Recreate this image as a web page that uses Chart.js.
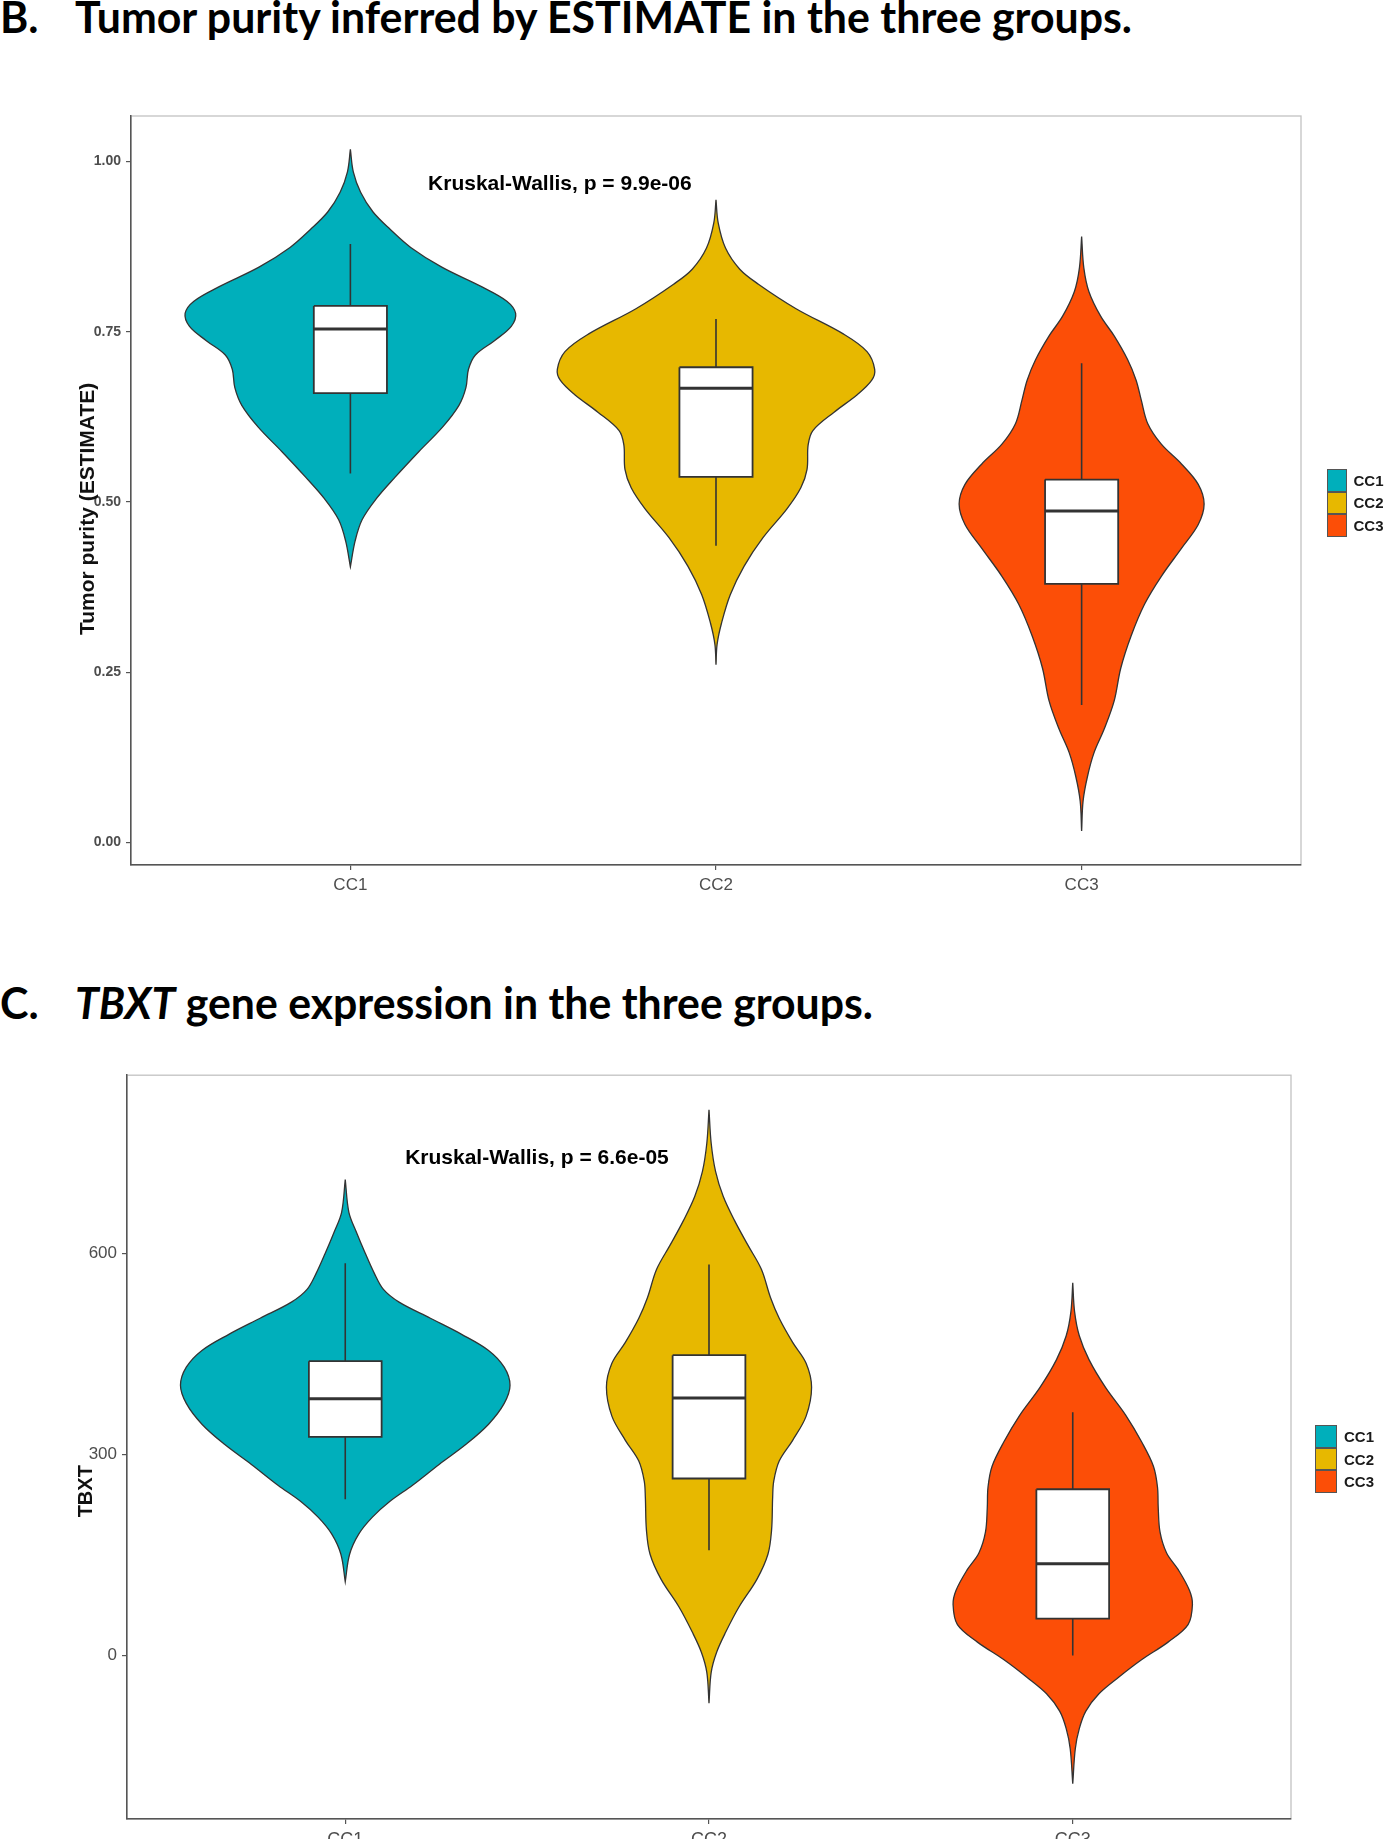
<!DOCTYPE html>
<html>
<head>
<meta charset="utf-8">
<title>Tumor purity and TBXT expression</title>
<script src="https://cdn.jsdelivr.net/npm/chart.js@4.4.1/dist/chart.umd.min.js"></script>
<style>
  html, body { margin: 0; padding: 0; background: #fff; }
  body { position: relative; width: 1388px; height: 1839px; overflow: hidden; }
  .head { position: absolute; left: 0; font-family: Lato, "Open Sans", sans-serif; font-weight: 700;
          font-size: 43px; line-height: 1; color: #000; white-space: nowrap; }
  .head .txt { position: absolute; left: 75px; top: 0; transform-origin: 0 0; }
  canvas { position: absolute; left: 0; }
  .legend { position: absolute; font: bold 15px "Liberation Sans", Arial, sans-serif; color: #1a1a1a; }
  .legend .item { display: flex; align-items: center; }
  .legend .sw { box-sizing: border-box; border: 1.5px solid #555; margin-right: 7px; }
</style>
</head>
<body>

<div class="head" style="top:-5px"><span>B.</span><span class="txt" data-w="1057">Tumor purity inferred by ESTIMATE in the three groups.</span></div>
<div class="head" style="top:981px"><span>C.</span><span class="txt" data-w="798"><i>TBXT</i> gene expression in the three groups.</span></div>

<canvas id="purityChart" width="1388" height="810" style="top:100px"></canvas>
<canvas id="tbxtChart" width="1388" height="779" style="top:1060px"></canvas>

<div class="legend" id="purityLegend" style="left:1327px; top:469px"></div>
<div class="legend" id="tbxtLegend" style="left:1315px; top:1425px"></div>

<script>
const categories = ['CC1', 'CC2', 'CC3'];
const groupColors = ['#00AFBB', '#E7B800', '#FC4E07'];

// B. tumor purity: violin outlines, [value, half width] from top tip to bottom tip
const purityViolinCC1 = [[1.018, 0], [0.985, 0.008], [0.955, 0.028], [0.926, 0.062], [0.900, 0.110], [0.874, 0.165],
  [0.845, 0.250], [0.816, 0.360], [0.795, 0.428], [0.777, 0.452], [0.758, 0.440], [0.737, 0.394], [0.716, 0.342],
  [0.695, 0.323], [0.668, 0.316], [0.642, 0.297], [0.610, 0.252], [0.574, 0.187], [0.537, 0.123], [0.505, 0.071],
  [0.474, 0.032], [0.443, 0.013], [0.405, 0]];
const purityViolinCC2 = [[0.944, 0], [0.910, 0.006], [0.873, 0.026], [0.842, 0.065], [0.820, 0.116], [0.784, 0.219],
  [0.747, 0.348], [0.721, 0.413], [0.695, 0.434], [0.679, 0.426], [0.658, 0.387], [0.632, 0.323], [0.605, 0.265],
  [0.584, 0.252], [0.548, 0.249], [0.521, 0.232], [0.490, 0.194], [0.448, 0.129], [0.406, 0.077], [0.364, 0.039],
  [0.322, 0.015], [0.291, 0.003], [0.261, 0]];
const purityViolinCC3 = [[0.890, 0], [0.844, 0.006], [0.809, 0.020], [0.773, 0.052], [0.744, 0.089], [0.709, 0.126],
  [0.679, 0.149], [0.650, 0.163], [0.615, 0.181], [0.585, 0.218], [0.556, 0.273], [0.526, 0.319], [0.497, 0.335],
  [0.467, 0.319], [0.432, 0.273], [0.391, 0.218], [0.350, 0.172], [0.303, 0.135], [0.256, 0.107], [0.208, 0.089],
  [0.167, 0.062], [0.132, 0.034], [0.097, 0.016], [0.061, 0.004], [0.017, 0]];
const purityWhiskerLow = [0.542, 0.436, 0.202];
const purityQ1 = [0.660, 0.537, 0.380];
const purityMedian = [0.754, 0.667, 0.487];
const purityQ3 = [0.788, 0.698, 0.533];
const purityWhiskerHigh = [0.879, 0.769, 0.704];
const purityTicks = [0, 0.25, 0.5, 0.75, 1.0];
const purityTest = 'Kruskal-Wallis, p = 9.9e-06';

// C. TBXT expression
const tbxtViolinCC1 = [[710, 0], [661, 0.010], [631, 0.031], [600, 0.055], [570, 0.080], [546, 0.105], [527, 0.148],
  [503, 0.234], [479, 0.320], [455, 0.394], [430, 0.437], [403, 0.453], [376, 0.437], [345, 0.394], [315, 0.332],
  [285, 0.258], [254, 0.185], [230, 0.123], [206, 0.074], [181, 0.037], [151, 0.012], [110, 0]];
const tbxtViolinCC2 = [[814, 0], [764, 0.006], [722, 0.018], [685, 0.039], [649, 0.070], [612, 0.107], [576, 0.144],
  [534, 0.169], [503, 0.193], [467, 0.230], [436, 0.267], [400, 0.282], [357, 0.267], [321, 0.230], [290, 0.193],
  [260, 0.178], [236, 0.175], [187, 0.172], [151, 0.162], [114, 0.132], [72, 0.082], [35, 0.046], [5, 0.021],
  [-25, 0.006], [-71, 0]];
const tbxtViolinCC3 = [[556, 0], [513, 0.005], [477, 0.018], [441, 0.045], [400, 0.090], [359, 0.145], [318, 0.190],
  [282, 0.222], [251, 0.233], [220, 0.235], [184, 0.240], [153, 0.258], [128, 0.290], [97, 0.321], [76, 0.329],
  [46, 0.317], [20, 0.262], [-6, 0.190], [-32, 0.127], [-57, 0.072], [-83, 0.036], [-109, 0.018], [-139, 0.007],
  [-191, 0]];
const tbxtWhiskerLow = [233, 157, 0];
const tbxtQ1 = [326, 264, 55];
const tbxtMedian = [383, 384, 137];
const tbxtQ3 = [439, 448, 248];
const tbxtWhiskerHigh = [585, 583, 363];
const tbxtTicks = [0, 300, 600];
const tbxtTest = 'Kruskal-Wallis, p = 6.6e-05';

const FONT = '"Liberation Sans", Arial, sans-serif';

// violin polygon: down the right side, back up the left side
function outline(profile, c) {
  const right = profile.map(([v, w]) => ({ x: c + w, y: v }));
  const left = profile.slice().reverse().map(([v, w]) => ({ x: c - w, y: v }));
  return right.concat(left);
}

function rect(c, lo, hi, hw) {
  return [{ x: c - hw, y: hi }, { x: c + hw, y: hi }, { x: c + hw, y: lo }, { x: c - hw, y: lo }, { x: c - hw, y: hi }];
}

// frame round the panel, test label and y title
const notes = {
  id: 'notes',
  beforeDraw(chart, args, o) {
    const { ctx, chartArea: a } = chart;
    ctx.save();
    ctx.strokeStyle = '#c2c2c2';
    ctx.lineWidth = 1.3;
    ctx.strokeRect(a.left, a.top, a.width, a.height);
    ctx.restore();
  },
  afterDraw(chart, args, o) {
    const { ctx, scales: { x, y } } = chart;
    ctx.save();
    ctx.textAlign = 'center';
    ctx.textBaseline = 'middle';
    ctx.fillStyle = '#000';
    ctx.font = o.testFont;
    ctx.fillText(o.test, x.getPixelForValue(o.testAt[0]), y.getPixelForValue(o.testAt[1]));
    ctx.translate(o.titleX, y.getPixelForValue(o.titleAt));
    ctx.rotate(-Math.PI / 2);
    ctx.font = o.titleFont;
    ctx.fillStyle = '#111';
    ctx.fillText(o.title, 0, 0);
    ctx.restore();
  }
};

function buildChart(id, cfg) {
  const datasets = [];
  categories.forEach((name, i) => {
    const c = i + 1;
    datasets.push({
      label: name, data: outline(cfg.violins[i], c), backgroundColor: groupColors[i],
      borderColor: '#333', borderWidth: 1.3, fill: 'shape', tension: 0.35, pointRadius: 0, order: 4
    });
    datasets.push({
      data: [{ x: c, y: cfg.lo[i] }, { x: c, y: cfg.hi[i] }],
      borderColor: '#333', borderWidth: 1.6, pointRadius: 0, fill: false, order: 3
    });
    datasets.push({
      data: rect(c, cfg.q1[i], cfg.q3[i], 0.1), backgroundColor: '#fff',
      borderColor: '#333', borderWidth: 1.8, fill: 'shape', tension: 0, pointRadius: 0, order: 2
    });
    datasets.push({
      data: [{ x: c - 0.1, y: cfg.med[i] }, { x: c + 0.1, y: cfg.med[i] }],
      borderColor: '#333', borderWidth: 3, pointRadius: 0, fill: false, order: 1
    });
  });

  return new Chart(document.getElementById(id), {
    type: 'line',
    data: { datasets },
    plugins: [notes],
    options: {
      responsive: false,
      animation: false,
      events: [],
      layout: { padding: cfg.padding },
      plugins: {
        legend: { display: false },
        tooltip: { enabled: false },
        notes: cfg.notes
      },
      scales: {
        x: {
          type: 'linear', min: 0.4, max: 3.6,
          afterBuildTicks: s => { s.ticks = categories.map((n, i) => ({ value: i + 1 })); },
          afterFit: s => { s.height = cfg.xHeight; },
          ticks: { callback: (v, i) => categories[i], color: '#4d4d4d', font: cfg.xFont, padding: 5, maxRotation: 0, autoSkip: false },
          grid: { drawOnChartArea: false, tickLength: 5, color: '#555', lineWidth: 1.2 },
          border: { color: '#555', width: 1.5 }
        },
        y: {
          type: 'linear', min: cfg.range[0], max: cfg.range[1],
          afterBuildTicks: s => { s.ticks = cfg.ticks.map(v => ({ value: v })); },
          afterFit: s => { s.width = cfg.yWidth; },
          ticks: { callback: cfg.fmt, color: '#4d4d4d', font: cfg.yFont, padding: 5 },
          grid: { drawOnChartArea: false, tickLength: 5, color: '#555', lineWidth: 1.2 },
          border: { color: '#555', width: 1.5 }
        }
      }
    }
  });
}

buildChart('purityChart', {
  violins: [purityViolinCC1, purityViolinCC2, purityViolinCC3],
  lo: purityWhiskerLow, q1: purityQ1, med: purityMedian, q3: purityQ3, hi: purityWhiskerHigh,
  ticks: purityTicks, range: [-0.033, 1.067], fmt: v => v.toFixed(2),
  padding: { left: 0, top: 16, right: 87, bottom: 0 }, yWidth: 131, xHeight: 45,
  xFont: { family: FONT, size: 17 }, yFont: { family: FONT, size: 14, weight: 'bold' },
  notes: {
    test: purityTest, testAt: [1.573, 0.9675], testFont: 'bold 21px ' + FONT,
    title: 'Tumor purity (ESTIMATE)', titleX: 88, titleAt: 0.49, titleFont: 'bold 21px ' + FONT
  }
});

buildChart('tbxtChart', {
  violins: [tbxtViolinCC1, tbxtViolinCC2, tbxtViolinCC3],
  lo: tbxtWhiskerLow, q1: tbxtQ1, med: tbxtMedian, q3: tbxtQ3, hi: tbxtWhiskerHigh,
  ticks: tbxtTicks, range: [-243.8, 865.5], fmt: v => String(v),
  padding: { left: 0, top: 15, right: 97, bottom: 0 }, yWidth: 127, xHeight: 20,
  xFont: { family: FONT, size: 18 }, yFont: { family: FONT, size: 17 },
  notes: {
    test: tbxtTest, testAt: [1.527, 742], testFont: 'bold 21px ' + FONT,
    title: 'TBXT', titleX: 86, titleAt: 245, titleFont: 'bold 20px ' + FONT
  }
});

function legend(id, w, h) {
  const box = document.getElementById(id);
  categories.forEach((name, i) => {
    const item = document.createElement('div');
    item.className = 'item';
    item.style.height = h + 'px';
    item.innerHTML = '<span class="sw" style="width:' + w + 'px;height:' + h + 'px;background:' + groupColors[i] + '"></span>' + name;
    box.appendChild(item);
  });
}
legend('purityLegend', 19.5, 22.5);
legend('tbxtLegend', 22, 22.7);

function fitHeads() {
  document.querySelectorAll('.head .txt').forEach(el => {
    el.style.transform = 'none';
    const w = el.getBoundingClientRect().width;
    el.style.transform = 'scaleX(' + (el.dataset.w / w) + ')';
  });
}
fitHeads();
if (document.fonts) document.fonts.ready.then(fitHeads);
</script>
</body>
</html>
